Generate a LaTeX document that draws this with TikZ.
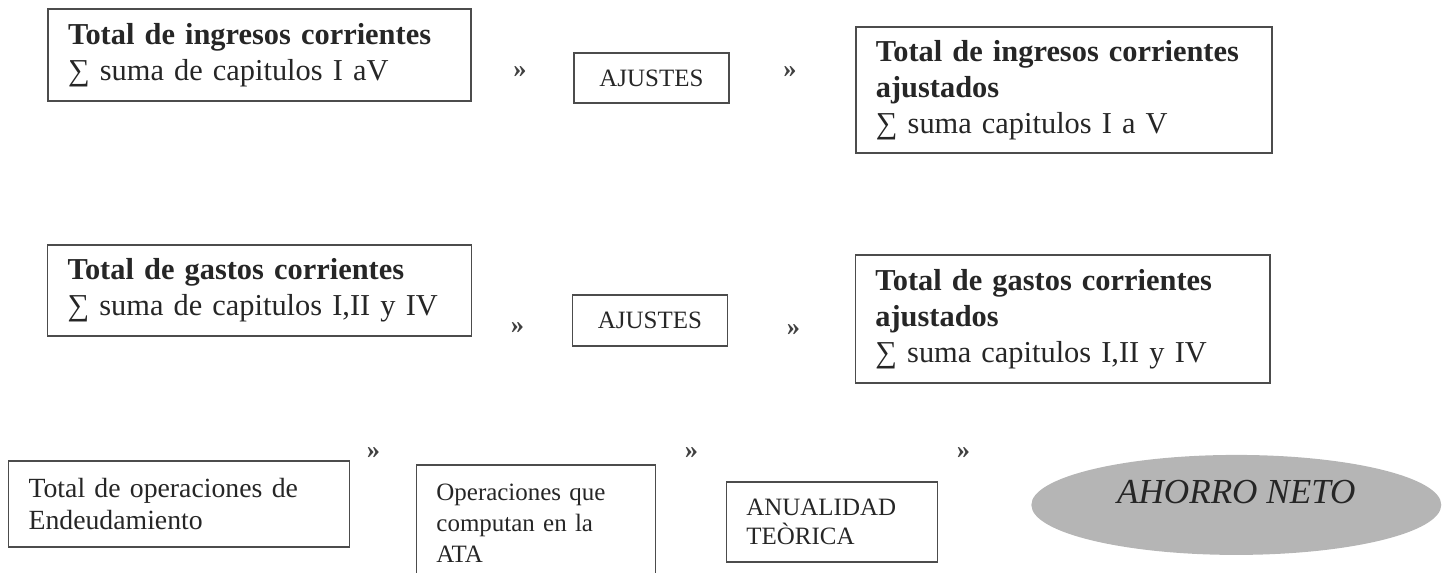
\documentclass[tikz,border=0pt]{standalone}
\usepackage{fontspec}
\setmainfont{Liberation Serif}
\usetikzlibrary{positioning, shapes.geometric}

\begin{document}
\begin{tikzpicture}[x=0.02cm, y=-0.02cm, on grid,
      caja/.style={draw=black!70, line width=1pt, inner xsep=0.4cm, inner ysep=0pt,
        align=left, text=black!85},
      grande/.style={caja, font=\fontsize{17.3}{20.4}\selectfont},
      medio/.style={caja, font=\fontsize{15.8}{18.1}\selectfont},
      chico/.style={caja, font=\fontsize{14.2}{17.6}\selectfont},
      ajuste/.style={chico, align=center, inner xsep=0pt,
        minimum width=3.1cm, minimum height=1cm},
      sep/.style={font=\fontsize{15}{16}\selectfont\bfseries, inner sep=0pt, text=black!75}]
      \useasboundingbox (0,0) rectangle (1449,572);
      \clip (0,0) rectangle (1449,572);
      % ingresos
      \node[grande, text width=7.66cm, minimum height=1.84cm] (ing) at (259.5,55)
        {\textbf{Total de ingresos corrientes}\\∑ suma de capitulos I aV};
      \node[sep] (s1a) [below right=0.34cm and 5.21cm of ing] {»};
      \node[ajuste] (aj1) [below right=0.12cm and 2.63cm of s1a] {AJUSTES};
      \node[sep] (s1b) [above right=0.12cm and 2.77cm of aj1] {»};
      \node[grande, text width=7.52cm, minimum height=2.52cm] (ingaj)
        [below right=0.36cm and 5.48cm of s1b]
        {\textbf{Total de ingresos corrientes}\\\textbf{ajustados}\\∑ suma capitulos I a V};
      % gastos
      \node[grande, text width=7.68cm, minimum height=1.82cm] (gas) [below=4.71cm of ing]
        {\textbf{Total de gastos corrientes}\\∑ suma de capitulos I,II y IV};
      \node[sep] (s2a) [below right=0.75cm and 5.16cm of gas] {»};
      \node[ajuste, minimum height=1.02cm] (aj2) [above right=0.15cm and 2.65cm of s2a] {AJUSTES};
      \node[sep] (s2b) [below right=0.19cm and 2.87cm of aj2] {»};
      \node[grande, text width=7.5cm, minimum height=2.56cm] (gasaj)
        [above right=0.22cm and 5.39cm of s2b]
        {\textbf{Total de gastos corrientes}\\\textbf{ajustados}\\∑ suma capitulos I,II y IV};
      % endeudamiento
      \node[medio, text width=6.02cm, minimum height=1.72cm] (endeu)
        [below left=4.27cm and 1.61cm of gas] {Total de operaciones de\\Endeudamiento};
      \node[sep] (s3a) [above right=1.02cm and 3.89cm of endeu] {»};
      \node[chico, text width=3.98cm, minimum height=2.32cm] (ata)
        [below right=1.4cm and 3.25cm of s3a] {Operaciones que\\computan en la\\ATA};
      \node[sep] (s3b) [above right=1.4cm and 3.11cm of ata] {»};
      \node[chico, text width=3.42cm, minimum height=1.6cm,
        font=\fontsize{14.2}{16.4}\selectfont] (anu)
        [below right=1.38cm and 2.81cm of s3b] {ANUALIDAD\\TEÒRICA};
      \node[sep] (s3c) [above right=1.38cm and 2.63cm of anu] {»};
      \node[ellipse, fill=black!29, inner sep=0pt, minimum width=8.2cm, minimum height=2cm,
        label={[yshift=0.26cm, font=\fontsize{20}{24}\selectfont\itshape, text=black!85]center:AHORRO NETO}]
        (neto) [below right=1.04cm and 5.46cm of s3c] {};
    \end{tikzpicture}
\end{document}
